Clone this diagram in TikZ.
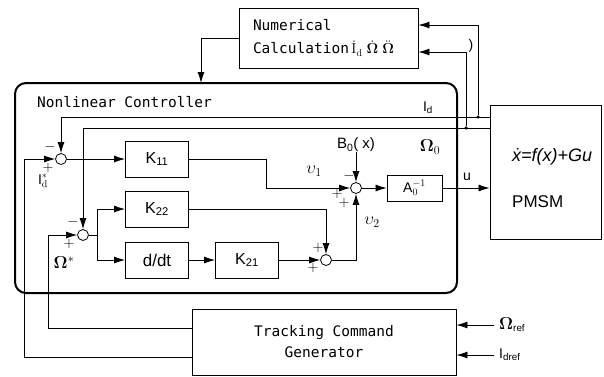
\documentclass[tikz,border=0pt]{standalone}
\usepackage[no-math]{fontspec}
\setmainfont{Liberation Sans}
\newfontfamily\monofont{DejaVu Sans Mono}
\usetikzlibrary{arrows.meta,positioning,calc}

\begin{document}
\begin{tikzpicture}[
    x=1pt, y=-1pt,
    blockbox/.style={rectangle, draw, line width=0.9pt, minimum width=63pt,
                     minimum height=36pt, inner sep=0pt, font=\fontsize{16}{18}\selectfont},
    framebox/.style={rectangle, draw, line width=0.9pt, inner sep=0pt},
    sumnode/.style={circle, draw, line width=0.8pt, minimum size=11pt, inner sep=0pt},
    sign/.style={inner sep=0pt, font=\fontsize{15}{15}\selectfont},
    lbl/.style={inner sep=0pt, font=\fontsize{14}{16}\selectfont},
    mathlbl/.style={inner sep=0pt, font=\fontsize{17}{19}\selectfont},
    tapdot/.style={circle, fill, inner sep=0pt, minimum size=3.5pt},
    arr/.style={-{Latex[length=11pt,width=7pt]}, line width=0.8pt},
    wire/.style={line width=0.8pt}
  ]
    \useasboundingbox (0,0) rectangle (604,376);

    % Numerical calculation
    \node[framebox, minimum width=179pt, minimum height=60pt, text width=151pt, align=left,
          font=\monofont\fontsize{14.5}{23}\selectfont] (calc) at (328.5,38)
      {Numerical\\Calculation\,$\dot{\mathrm I}_{\mathrm d}\;\dot{\mathbf\Omega}\;\ddot{\mathbf\Omega}$};

    % Controller frame
    \node[rectangle, draw, line width=2pt, rounded corners=11pt,
          minimum width=442pt, minimum height=210pt] (ctrl) at (236,188) {};
    \node[anchor=west, inner sep=0pt, font=\monofont\fontsize{14.5}{16}\selectfont] (ctitle) at (37,102)
      {Nonlinear Controller};

    % Plant
    \node[framebox, minimum width=111pt, minimum height=134pt] (pmsm) at (545.5,172) {};
    \node[anchor=west, inner sep=0pt, font=\itshape\fontsize{18}{20}\selectfont] (pmsmeq) at (512,157) {\.x=f(x)+Gu};
    \node[anchor=west, inner sep=0pt, font=\fontsize{17}{20}\selectfont] (pmsmname) at (512,202) {PMSM};

    % Command generator
    \node[framebox, minimum width=264pt, minimum height=66pt, align=center,
          font=\monofont\fontsize{14.5}{21}\selectfont] (gen) at (324,342) {Tracking Command\\Generator};

    % Gains
    \node[blockbox] (k11) at (157,159) {K\textsubscript{11}};
    \node[blockbox] (k22) at (157,209) {K\textsubscript{22}};
    \node[blockbox, font=\fontsize{17}{19}\selectfont] (ddt) at (157,260) {d/dt};
    \node[blockbox] (k21) at (247,260) {K\textsubscript{21}};
    \node[blockbox, minimum width=55pt, minimum height=26pt, font=\fontsize{14}{16}\selectfont] (ainv) at (414.5,188) {A$_0^{-1}$};

    % Summing points
    \node[sumnode] (s1) at (61,159) {};
    \node[sumnode] (s2) at (83,235) {};
    \node[sumnode] (s3) at (326,260) {};
    \node[sumnode] (s4) at (356,188) {};

    % Feedback from the plant
    \coordinate (idout) at ([yshift=55pt]pmsm.west);
    \coordinate (omout) at ([yshift=44pt]pmsm.west);
    \node[tapdot] (idtap) at (478,117) {};
    \node[tapdot] (omtap) at (466,128) {};
    \draw[arr] (idout) -| (s1);
    \draw[arr] (omout) -| (s2);
    \draw[arr] (idtap) |- ([yshift=13pt]calc.east);
    \draw[arr] (omtap) |- ([yshift=-14pt]calc.east);
    \coordinate (ctrlin) at (201,83);
    \draw[arr] (calc.west) -| (ctrlin);

    % Commands from the generator
    \draw[arr] ([yshift=-15pt]gen.west) -- ++(-167,0) |- (s1);
    \draw[arr] ([yshift=14pt]gen.west) -- ++(-143,0) |- (s2);

    % Forward path
    \draw[arr] (s1) -- (k11);
    \draw[wire] (s2) -- ++(14,0) coordinate (split);
    \draw[arr] (split) |- (k22);
    \draw[arr] (split) |- (ddt);
    \draw[arr] (ddt) -- (k21);
    \draw[arr] (k21) -- (s3);
    \draw[arr] (k22) -| (s3);
    \draw[arr] (k11) -- ++(109,0) |- (s4);
    \draw[arr] (s3) -| (s4);
    \draw[arr] (s4) -- (ainv);
    \draw[arr] (ainv) -- (ainv -| pmsm.west);
    \node[lbl, font=\fontsize{15}{17}\selectfont] (b0) at (356,145) {B\textsubscript{0}( x)};
    \draw[arr] (b0) -- (s4);

    % Reference inputs
    \node[lbl, anchor=west] (wref) at (499,325) {{\fontsize{16}{16}\selectfont$\mathbf\Omega$}\textsubscript{ref}};
    \node[lbl, anchor=west] (idref) at (499,355) {I\textsubscript{dref}};
    \draw[arr] ([xshift=-5pt]wref.west) -- (wref -| gen.east);
    \draw[arr] ([xshift=-5pt]idref.west) -- (idref -| gen.east);

    % Signal labels
    \node[lbl] (idlbl) at (428,108) {I\textsubscript{d}};
    \node[mathlbl] (w0lbl) at (430,147) {$\mathbf\Omega_0$};
    \node[lbl] (ulbl) at (467,177) {u};
    \node[mathlbl] (v1lbl) at (314,171) {$\upsilon_1$};
    \node[mathlbl] (v2lbl) at (372,222) {$\upsilon_2$};
    \node[lbl] (idstar) at (43,181) {I$^{*}_{\mathrm d}$};
    \node[mathlbl] (wstar) at (64,263) {$\mathbf\Omega^{*}$};
    \node[lbl] (paren) at (471,46) {)};

    % Signs
    \node[sign] (s1m) at (50,147) {$-$};
    \node[sign] (s1p) at (48,168) {$+$};
    \node[sign] (s2m) at (73,222) {$-$};
    \node[sign] (s2p) at (69,244) {$+$};
    \node[sign] (s3a) at (318,248) {$+$};
    \node[sign] (s3b) at (313,268) {$+$};
    \node[sign] (s4m) at (349,176) {$-$};
    \node[sign] (s4a) at (337,194) {$+$};
    \node[sign] (s4b) at (344,203) {$+$};
  \end{tikzpicture}
\end{document}
